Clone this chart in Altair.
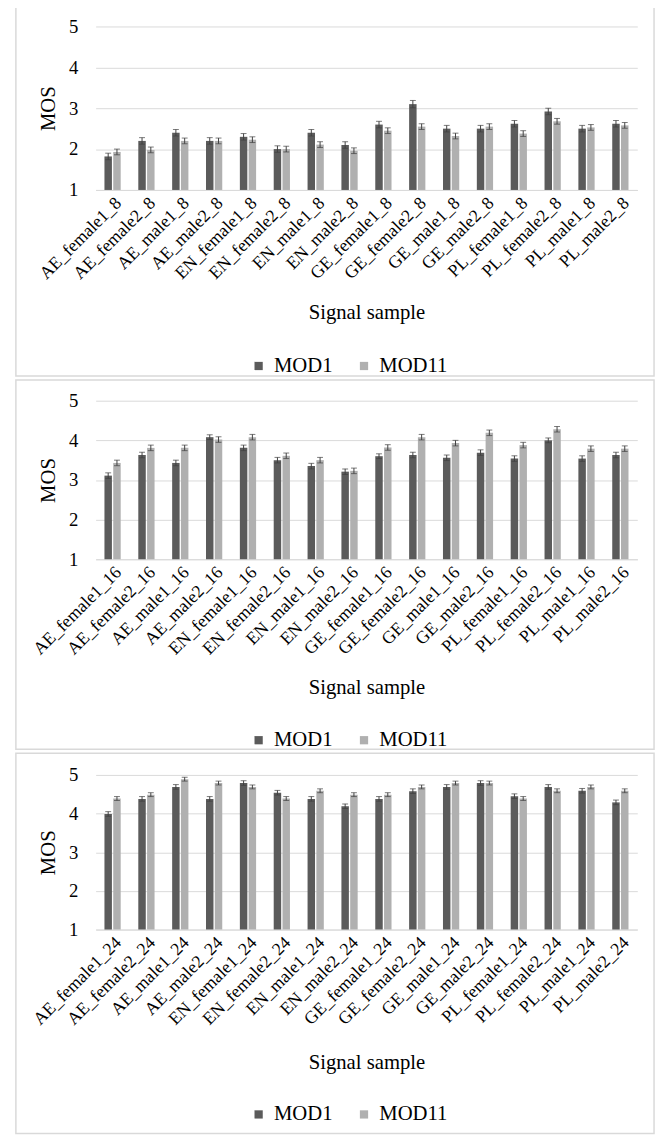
import altair as alt
import pandas as pd

# ---------------- data ----------------
base_names = ["AE_female1", "AE_female2", "AE_male1", "AE_male2",
              "EN_female1", "EN_female2", "EN_male1", "EN_male2",
              "GE_female1", "GE_female2", "GE_male1", "GE_male2",
              "PL_female1", "PL_female2", "PL_male1", "PL_male2"]
models = ["MOD1", "MOD11"]
y_ticks = [1, 2, 3, 4, 5]

mod1_8 = [1.82, 2.20, 2.40, 2.20, 2.30, 2.00, 2.40, 2.10, 2.60, 3.10, 2.50, 2.50, 2.62, 2.92, 2.50, 2.62]
mod11_8 = [1.93, 1.98, 2.20, 2.20, 2.23, 2.00, 2.11, 1.96, 2.45, 2.55, 2.32, 2.55, 2.38, 2.68, 2.53, 2.58]
err1_8 = [0.08, 0.08, 0.08, 0.08, 0.08, 0.08, 0.08, 0.08, 0.08, 0.09, 0.08, 0.08, 0.08, 0.08, 0.08, 0.08]
err11_8 = [0.07, 0.07, 0.07, 0.07, 0.07, 0.07, 0.07, 0.07, 0.07, 0.07, 0.07, 0.07, 0.07, 0.07, 0.07, 0.07]

mod1_16 = [3.11, 3.63, 3.43, 4.08, 3.81, 3.50, 3.35, 3.21, 3.60, 3.63, 3.56, 3.69, 3.54, 4.00, 3.54, 3.63]
mod11_16 = [3.43, 3.81, 3.81, 4.02, 4.08, 3.61, 3.50, 3.23, 3.82, 4.08, 3.93, 4.19, 3.88, 4.28, 3.79, 3.79]
err1_16 = [0.07, 0.07, 0.07, 0.06, 0.07, 0.07, 0.07, 0.07, 0.06, 0.07, 0.07, 0.07, 0.07, 0.06, 0.07, 0.07]
err11_16 = [0.07, 0.07, 0.07, 0.07, 0.07, 0.07, 0.07, 0.07, 0.07, 0.07, 0.07, 0.07, 0.07, 0.07, 0.07, 0.07]

mod1_24 = [3.99, 4.38, 4.69, 4.38, 4.79, 4.54, 4.38, 4.19, 4.38, 4.58, 4.69, 4.79, 4.45, 4.69, 4.59, 4.29]
mod11_24 = [4.39, 4.49, 4.89, 4.79, 4.69, 4.39, 4.59, 4.49, 4.49, 4.69, 4.79, 4.79, 4.39, 4.59, 4.69, 4.59]
err1_24 = [0.06, 0.06, 0.06, 0.06, 0.06, 0.06, 0.06, 0.06, 0.06, 0.06, 0.06, 0.06, 0.06, 0.06, 0.06, 0.06]
err11_24 = [0.05, 0.05, 0.05, 0.05, 0.05, 0.05, 0.05, 0.05, 0.05, 0.05, 0.05, 0.05, 0.05, 0.05, 0.05, 0.05]

colors = ["#5b5b5b", "#b0b0b0"]
FONT = "Liberation Serif"


def make_df(suffix, m1, m11, e1, e11):
    rows = []
    for i, b in enumerate(base_names):
        name = f"{b}_{suffix}"
        rows.append({"sample": name, "model": "MOD1", "mos": m1[i],
                     "lo": m1[i] - e1[i], "hi": m1[i] + e1[i]})
        rows.append({"sample": name, "model": "MOD11", "mos": m11[i],
                     "lo": m11[i] - e11[i], "hi": m11[i] + e11[i]})
    return pd.DataFrame(rows), [f"{b}_{suffix}" for b in base_names]


def panel(suffix, m1, m11, e1, e11, h, box_top, box_bottom, title_y):
    df, order = make_df(suffix, m1, m11, e1, e11)
    W = 550
    x_scale = alt.Scale(paddingInner=0.52, paddingOuter=0.26)
    x_axis = alt.Axis(titleY=title_y, labelOverlap=False)
    x = alt.X("sample:N", sort=order, scale=x_scale, title="Signal sample",
              axis=x_axis)
    xo = alt.XOffset("model:N", sort=models,
                     scale=alt.Scale(paddingInner=0.15, paddingOuter=0))
    y_scale = alt.Scale(domain=[1, 5])
    y_axis = alt.Axis(values=y_ticks, tickCount=5, labelOverlap=False)
    base = alt.Chart(df)
    bars = base.mark_bar().encode(
        x=x, xOffset=xo,
        y=alt.Y("mos:Q", scale=y_scale, title="MOS", axis=y_axis),
        y2=alt.datum(1),
        color=alt.Color("model:N", sort=models,
                        scale=alt.Scale(domain=models, range=colors),
                        legend=alt.Legend(orient="none", legendX=155,
                                          legendY=334, direction="horizontal",
                                          title=None)),
    )
    rules = base.mark_rule(color="#404040", strokeWidth=1).encode(
        x=x, xOffset=xo,
        y=alt.Y("lo:Q", scale=y_scale, title="MOS", axis=y_axis),
        y2="hi:Q")
    cap_hi = base.mark_tick(color="#404040", orient="horizontal", size=6,
                            thickness=1).encode(
        x=x, xOffset=xo,
        y=alt.Y("hi:Q", scale=y_scale, title="MOS", axis=y_axis))
    cap_lo = base.mark_tick(color="#404040", orient="horizontal", size=6,
                            thickness=1).encode(
        x=x, xOffset=xo,
        y=alt.Y("lo:Q", scale=y_scale, title="MOS", axis=y_axis))
    box = alt.Chart(pd.DataFrame({"k": [0]})).mark_rect(
        fill="white", fillOpacity=0, stroke="#d9d9d9", strokeWidth=1.5
    ).encode(x=alt.value(-81), x2=alt.value(567),
             y=alt.value(box_top), y2=alt.value(box_bottom))
    return alt.layer(box, bars, rules, cap_hi, cap_lo).properties(width=W, height=h)


p1 = panel("8", mod1_8, mod11_8, err1_8, err11_8, 166, -20, 355, 125)
p2 = panel("16", mod1_16, mod11_16, err1_16, err11_16, 161, -21, 354, 130)
p3 = panel("24", mod1_24, mod11_24, err1_24, err11_24, 157, -22, 364, 135)

chart = alt.vconcat(p1, p2, p3, spacing=0).resolve_scale(
    x="independent", color="independent"
).properties(
    padding={"left": 6, "top": -12, "right": 0, "bottom": 0},
    background="white",
).configure(
    font=FONT
).configure_view(
    stroke="transparent"
).configure_axis(
    labelFont=FONT, titleFont=FONT, labelColor="#000000",
    titleColor="#000000", titleFontWeight="normal", titleFontSize=21,
    ticks=False, labelOverlap=False, labelFlush=False,
).configure_axisX(
    labelAngle=-45, labelFontSize=18, labelPadding=4, labelLimit=300,
    domainColor="#d9d9d9", titleBaseline="middle", grid=False,
).configure_axisY(
    labelFontSize=19, labelPadding=18, domain=False, grid=True,
    gridColor="#d9d9d9", titlePadding=10,
).configure_legend(
    labelFont=FONT, labelFontSize=21, labelColor="#000000",
    labelOffset=5, columnPadding=21, symbolType="square", symbolSize=70,
    symbolStrokeWidth=0,
)

chart.save("out.html", embed_options={"renderer": "svg", "actions": False})
